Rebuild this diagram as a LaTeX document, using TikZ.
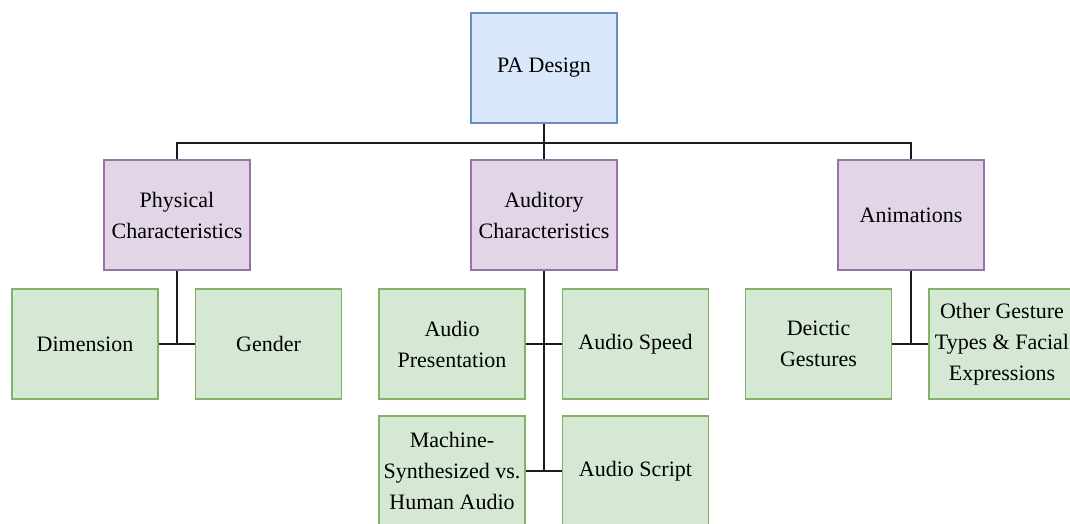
\documentclass[tikz,border=0pt]{standalone}
\usepackage{fontspec}
\setmainfont{Liberation Serif}
\definecolor{bluefill}{HTML}{DAE8FC}
\definecolor{blueline}{HTML}{6C8EBF}
\definecolor{purpfill}{HTML}{E1D5E7}
\definecolor{purpline}{HTML}{9673A6}
\definecolor{greenfill}{HTML}{D5E8D4}
\definecolor{greenline}{HTML}{82B366}
\definecolor{linkcol}{HTML}{1A1A1A}
\tikzset{
  boxbase/.style={rectangle, minimum width=146pt, minimum height=110pt, inner sep=0pt,
    align=center, line width=1.5pt,
    font=\fontsize{22pt}{31pt}\selectfont},
  rootbox/.style={boxbase, fill=bluefill, draw=blueline},
  midbox/.style={boxbase, fill=purpfill, draw=purpline},
  leafbox/.style={boxbase, fill=greenfill, draw=greenline},
  link/.style={draw=linkcol, line width=2pt}
}
\begin{document}
\begin{tikzpicture}[x=1pt,y=-1pt]
\useasboundingbox (0,0) rectangle (1070,523);
\clip (0,0) rectangle (1070,523);
\fill[white] (0,0) rectangle (1070,523);
\coordinate (bus) at (544,143);
\node[rootbox] (pa) at (544,68) {PA Design};
\node[midbox] (phys) at (177,215) {Physical\\Characteristics};
\node[midbox] (aud) at (544,215) {Auditory\\Characteristics};
\node[midbox] (anim) at (911,215) {Animations};
\node[leafbox] (dim) at (85,344) {Dimension};
\node[leafbox] (gen) at (268.5,344) {Gender};
\node[leafbox] (apres) at (452,344) {Audio\\Presentation};
\node[leafbox] (aspeed) at (635.5,344) {Audio Speed};
\node[leafbox] (mach) at (452,471) {Machine-\\Synthesized vs.\\Human Audio};
\node[leafbox] (ascript) at (635.5,471) {Audio Script};
\node[leafbox] (deic) at (818.5,344) {Deictic\\Gestures};
\node[leafbox] (other) at (1002,344) {Other Gesture\\Types \& Facial\\Expressions};
\draw[link] (pa.south) -- (bus);
\draw[link] (phys.north) |- (bus) -| (anim.north);
\draw[link] (bus) -- (aud.north);
\draw[link] (phys.south) -- (phys.south |- dim.east);
\draw[link] (dim.east) -- (gen.west);
\draw[link] (aud.south) -- (aud.south |- mach.east);
\draw[link] (apres.east) -- (aspeed.west);
\draw[link] (mach.east) -- (ascript.west);
\draw[link] (anim.south) -- (anim.south |- deic.east);
\draw[link] (deic.east) -- (other.west);
\end{tikzpicture}
\end{document}
